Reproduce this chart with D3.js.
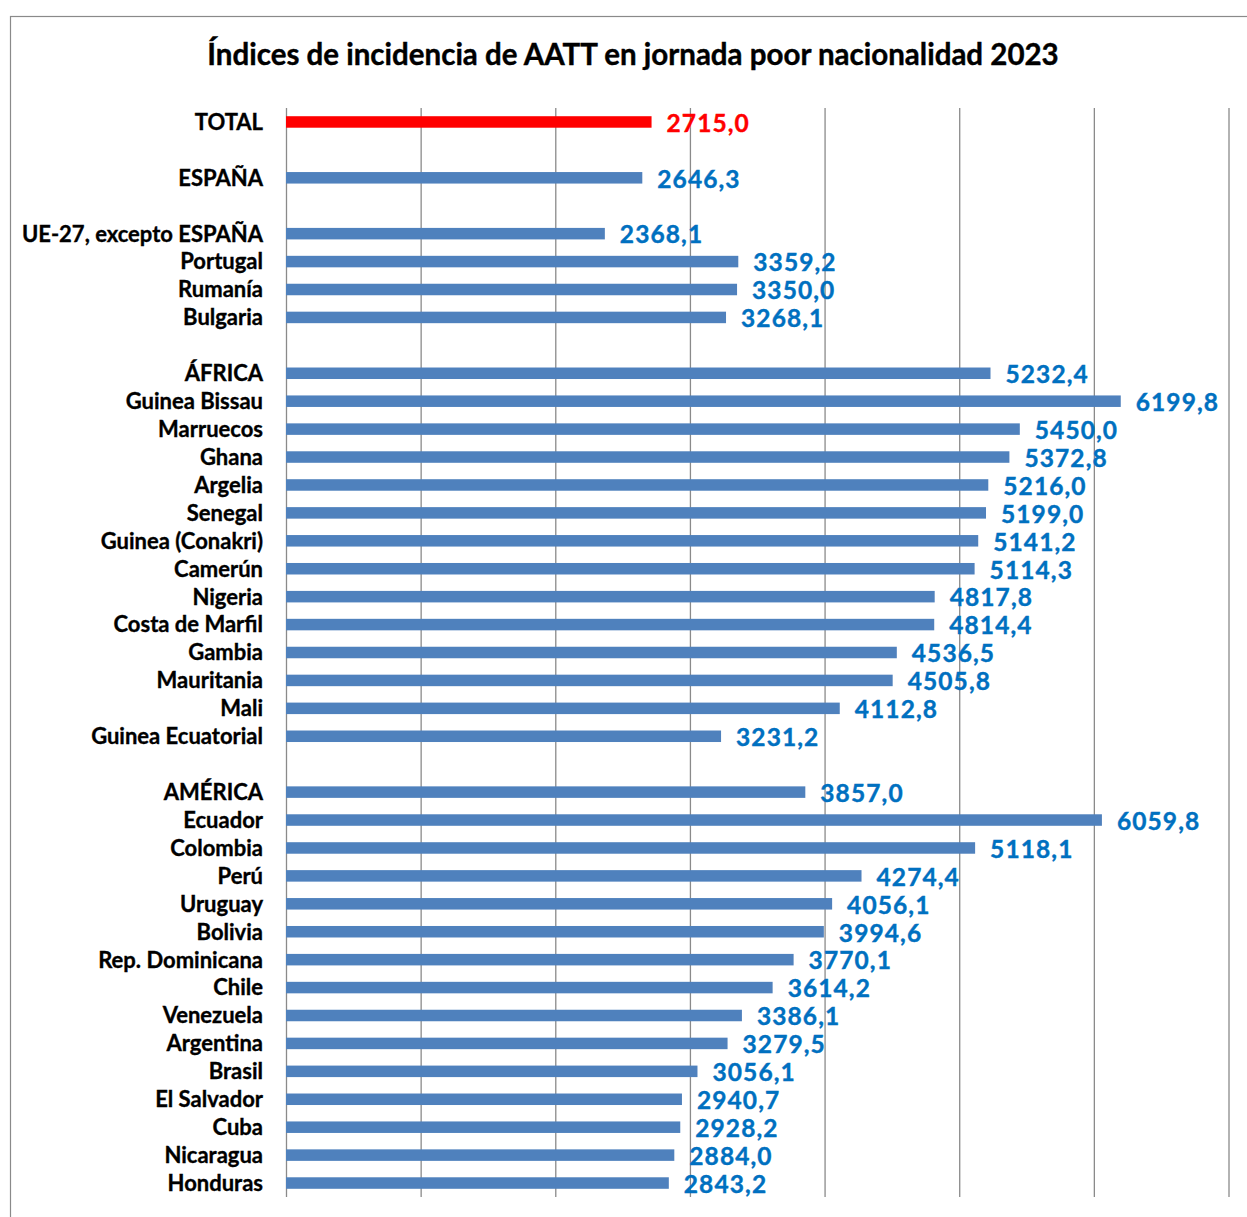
<!DOCTYPE html>
<html>
<head>
<meta charset="utf-8">
<script src="https://cdn.jsdelivr.net/npm/d3@7"></script>
<style>
  html, body { margin: 0; padding: 0; background: #fff; }
  svg { display: block; }
  text { font-family: Lato, "Open Sans", sans-serif; font-weight: bold; }
</style>
</head>
<body>
<svg id="chart" width="1247" height="1217"></svg>
<script>
// ---- data (null = empty spacer row) ----
const titleText = "Índices de incidencia de AATT en jornada poor nacionalidad 2023";
const categories = [
  "TOTAL", null, "ESPAÑA", null,
  "UE-27, excepto ESPAÑA", "Portugal", "Rumanía", "Bulgaria", null,
  "ÁFRICA", "Guinea Bissau", "Marruecos", "Ghana", "Argelia", "Senegal",
  "Guinea (Conakri)", "Camerún", "Nigeria", "Costa de Marfil", "Gambia",
  "Mauritania", "Mali", "Guinea Ecuatorial", null,
  "AMÉRICA", "Ecuador", "Colombia", "Perú", "Uruguay", "Bolivia",
  "Rep. Dominicana", "Chile", "Venezuela", "Argentina", "Brasil",
  "El Salvador", "Cuba", "Nicaragua", "Honduras"
];
const values = [
  2715.0, null, 2646.3, null,
  2368.1, 3359.2, 3350.0, 3268.1, null,
  5232.4, 6199.8, 5450.0, 5372.8, 5216.0, 5199.0,
  5141.2, 5114.3, 4817.8, 4814.4, 4536.5,
  4505.8, 4112.8, 3231.2, null,
  3857.0, 6059.8, 5118.1, 4274.4, 4056.1, 3994.6,
  3770.1, 3614.2, 3386.1, 3279.5, 3056.1,
  2940.7, 2928.2, 2884.0, 2843.2
];
const gridTicks = [0, 1000, 2000, 3000, 4000, 5000, 6000, 7000];

const rows = categories.map((c, i) => ({ key: "r" + i, name: c, value: values[i] }));
const bars = rows.filter(d => d.name !== null);

const svg = d3.select("#chart");

// frame
svg.append("rect")
  .attr("x", 10.5).attr("y", 16.5)
  .attr("width", 1300).attr("height", 1300)
  .attr("fill", "none").attr("stroke", "#8a8a8a").attr("stroke-width", 1.2);

// title
svg.append("text")
  .attr("x", 633).attr("y", 65)
  .attr("text-anchor", "middle")
  .attr("font-size", 29.5)
  .attr("fill", "#000")
  .attr("stroke", "#000").attr("stroke-width", 0.4)
  .text(titleText);

const x = d3.scaleLinear().domain([0, 7000]).range([286, 1228.5]);
const y = d3.scaleBand()
  .domain(rows.map(d => d.key))
  .range([108, 1197])
  .paddingInner(0.588)
  .paddingOuter(0.294);

// vertical gridlines via axis
const gridAxis = d3.axisTop(x).tickValues(gridTicks).tickSize(-(1197 - 108)).tickFormat("");
const g = svg.append("g").attr("transform", "translate(0,108)").call(gridAxis);
g.select(".domain").remove();
g.selectAll(".tick line").attr("stroke", "#8a8a8a").attr("stroke-width", 1.3);

// bars
svg.append("g").selectAll("rect")
  .data(bars).join("rect")
  .attr("x", x(0))
  .attr("y", d => y(d.key))
  .attr("width", d => x(d.value) - x(0))
  .attr("height", y.bandwidth())
  .attr("fill", d => d.name === "TOTAL" ? "#FF0000" : "#4F81BD");

// category labels
svg.append("g").selectAll("text")
  .data(bars).join("text")
  .attr("x", 263)
  .attr("y", d => y(d.key) + y.bandwidth() / 2)
  .attr("dy", "0.36em")
  .attr("text-anchor", "end")
  .attr("font-size", 22)
  .attr("fill", "#000")
  .attr("stroke", "#000").attr("stroke-width", 0.35)
  .text(d => d.name);

// value labels
const fmt = v => v.toFixed(1).replace(".", ",");
svg.append("g").selectAll("text")
  .data(bars).join("text")
  .attr("x", d => x(d.value) + 15)
  .attr("y", d => y(d.key) + y.bandwidth() / 2 + 1)
  .attr("dy", "0.36em")
  .attr("font-size", 24.5)
  .attr("letter-spacing", 1.1)
  .attr("fill", d => d.name === "TOTAL" ? "#FF0000" : "#0070C0")
  .attr("stroke", d => d.name === "TOTAL" ? "#FF0000" : "#0070C0")
  .attr("stroke-width", 0.4)
  .text(d => fmt(d.value));
</script>
</body>
</html>
